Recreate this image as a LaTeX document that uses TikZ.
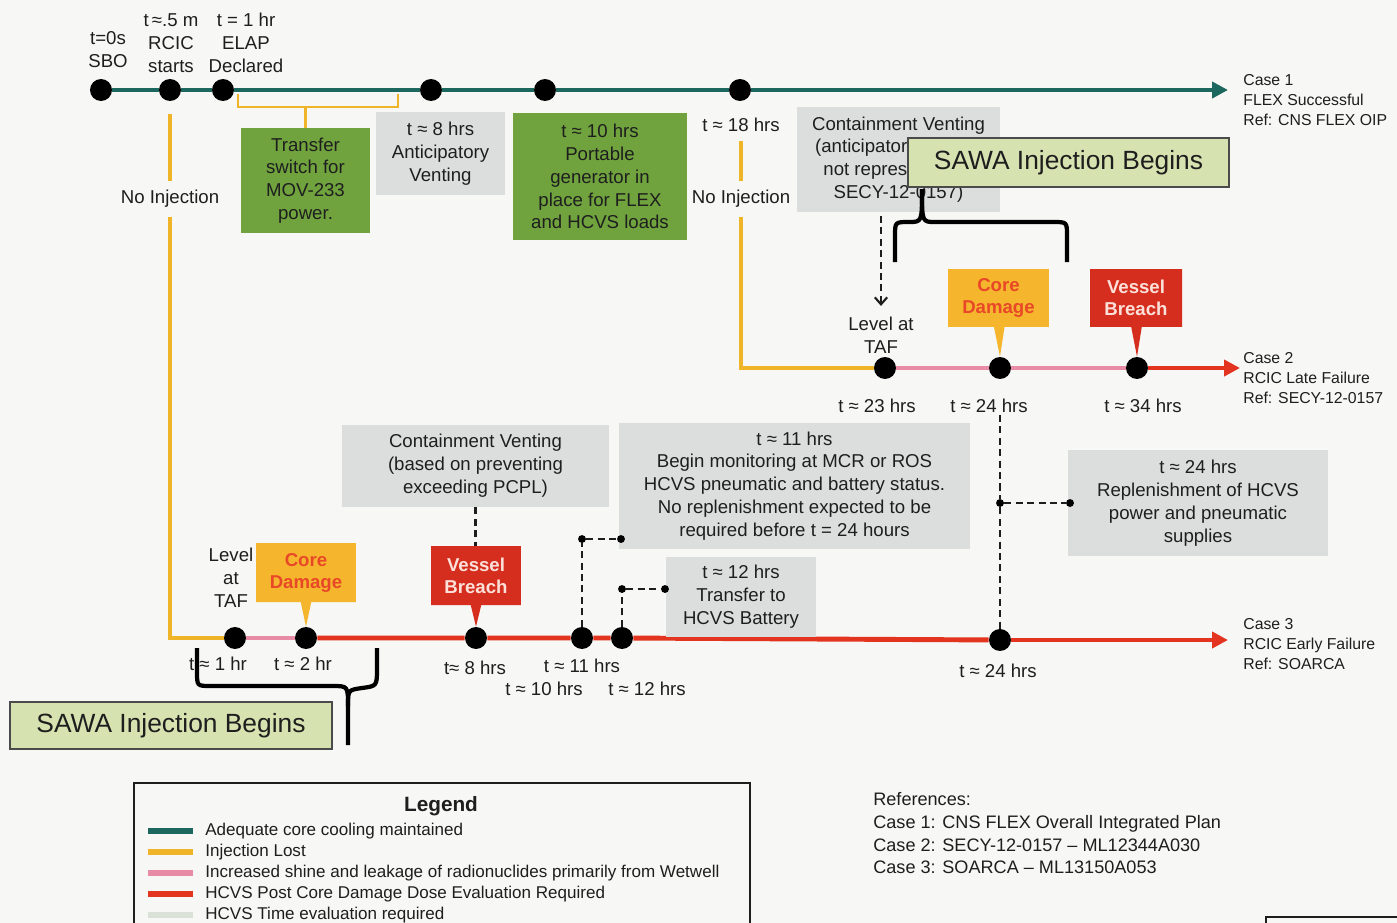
\documentclass[tikz,border=0pt]{standalone}
\usepackage{fontspec}
\setmainfont{Liberation Sans}
\usetikzlibrary{arrows.meta,positioning,calc,shapes.callouts}
\definecolor{paper}{RGB}{247,247,246}
\definecolor{ink}{RGB}{30,30,30}
\definecolor{okc}{RGB}{28,104,94}
\definecolor{lostc}{RGB}{240,180,40}
\definecolor{shinec}{RGB}{232,140,165}
\definecolor{dosec}{RGB}{226,52,30}
\definecolor{timec}{RGB}{218,225,214}
\definecolor{flexgreen}{RGB}{112,163,62}
\definecolor{notegray}{RGB}{220,222,222}
\definecolor{sawafill}{RGB}{214,227,176}
\definecolor{cdfill}{RGB}{245,182,45}
\definecolor{cdtext}{RGB}{232,72,40}
\definecolor{vbfill}{RGB}{214,46,30}
\definecolor{vbtext}{RGB}{252,225,218}
\tikzset{
  lbl/.style={align=center,font=\fontsize{10.6}{13}\selectfont,text=ink,inner sep=1pt},
  caselbl/.style={align=left,anchor=west,font=\fontsize{9}{11.3}\selectfont,text=ink,inner sep=0pt},
  greenbox/.style={lbl,fill=flexgreen,inner sep=0pt},
  graybox/.style={lbl,fill=notegray,inner sep=0pt},
  sawabox/.style={draw=ink!80,line width=0.8pt,fill=sawafill,font=\fontsize{15}{18}\selectfont,text=ink},
  callbox/.style={rectangle callout,align=center,inner sep=0pt,callout pointer width=6pt,
                  font=\bfseries\fontsize{10.6}{12.5}\selectfont},
  cdcall/.style={callbox,fill=cdfill,text=cdtext},
  vbcall/.style={callbox,fill=vbfill,text=vbtext},
  evdot/.style={circle,fill=black,inner sep=0pt,minimum size=12.5pt},
  tinydot/.style={circle,fill=black,inner sep=0pt,minimum size=4.5pt},
  arr/.style={-{Triangle[length=9pt,width=9pt]}},
  okline/.style={okc,line width=2.8pt,arr},
  lostline/.style={lostc,line width=2.6pt},
  shineline/.style={shinec,line width=2.8pt},
  doseline/.style={dosec,line width=2.8pt},
  bracket/.style={lostc,line width=1.6pt},
  dashcon/.style={ink,line width=1.2pt,dash pattern=on 4pt off 2.5pt},
  dasharrow/.style={dashcon,-{Straight Barb[length=4pt,width=7pt]}},
  bracepath/.style={black,line width=2.4pt,line join=round},
  legtext/.style={anchor=west,font=\fontsize{9.7}{11}\selectfont,text=ink,inner sep=0pt},
}
\begin{document}
\begin{tikzpicture}[x=0.02cm,y=-0.02cm]
  \useasboundingbox (0,0) rectangle (1397,923);
  \fill[paper] (0,0) rectangle (1397,923);

  % case 1 -- FLEX successful
  \node[evdot] (d0) at (101,90) {};
  \node[evdot] (d1) at (170,90) {};
  \node[evdot] (d2) at (223,90) {};
  \node[evdot] (d3) at (431,90) {};
  \node[evdot] (d4) at (545,90) {};
  \node[evdot] (d5) at (740,90) {};
  \coordinate (c1end) at (1228,90);
  \draw[okline] (d0) -- (d1) -- (d2) -- (d3) -- (d4) -- (d5) -- (c1end);
  \node[lbl] (sbo) at (108,50) {t=0s\\SBO};
  \node[lbl] (rcic) at (171,43) {t\,≈.5 m\\RCIC\\starts};
  \node[lbl] (elap) at (246,43) {t = 1 hr\\ELAP\\Declared};
  \node[caselbl] (case1) at (1243,100) {Case 1\\FLEX Successful\\Ref: CNS FLEX OIP};

  % boxes under case 1
  \node[greenbox,minimum width=2.58cm,minimum height=2.1cm] (xfer) at (305.5,180.5)
    {Transfer\\switch for\\MOV-233\\power.};
  \coordinate (brmid) at (305.5,107);
  \draw[bracket] (238,94) |- (398,107) -- (398,94);
  \draw[bracket] (xfer.north) -- (brmid);
  \node[graybox,minimum width=2.58cm,minimum height=1.66cm] (antv) at (440.5,153.5)
    {t ≈ 8 hrs\\Anticipatory\\Venting};
  \node[greenbox,minimum width=3.48cm,minimum height=2.54cm] (pgen) at (600,176.5)
    {t ≈ 10 hrs\\Portable\\generator in\\place for FLEX\\and HCVS loads};
  \node[lbl] (t18) at (741,125) {t ≈ 18 hrs};
  \node[lbl,inner sep=5pt] (ni1) at (170,199) {No Injection};
  \node[lbl,inner sep=5pt] (ni2) at (741,199) {No Injection};
  \node[graybox,minimum width=4.06cm,minimum height=2.1cm] (vent1) at (898.5,159.5)
    {Containment Venting\\(anticipatory venting\\not represented in\\SECY-12-0157)};
  \node[sawabox,minimum width=6.42cm,minimum height=0.98cm] (sawa1) at (1068.5,162.5)
    {SAWA Injection Begins};
  \draw[bracepath] (895,262) -- (895,236) .. controls (895,222) .. (909,222)
    .. controls (922,222) .. (922,189);
  \draw[bracepath] (922,189) .. controls (922,222) .. (935,222) -- (1053,222)
    .. controls (1067,222) .. (1067,236) -- (1067,262);

  % case 2 -- RCIC late failure
  \node[evdot] (f1) at (885,368) {};
  \node[evdot] (f2) at (1000,368) {};
  \node[evdot] (f3) at (1137,368) {};
  \coordinate (c2end) at (1240,368);
  \draw[lostline,shorten <=4pt] (t18) -- (ni2);
  \draw[lostline] (ni2) |- (f1);
  \draw[shineline] (f1) -- (f2) -- (f3);
  \draw[doseline,arr] (f3) -- (c2end);
  \node[lbl] (lt2) at (881,335) {Level at\\TAF};
  \draw[dasharrow,shorten <=2pt,shorten >=5pt] (vent1.south -| lt2.north) -- (lt2.north);
  \node[cdcall,minimum width=2.02cm,minimum height=1.16cm,callout absolute pointer={(f2.north)}]
    (cd2) at (998.5,298) {Core\\Damage};
  \node[vbcall,minimum width=1.84cm,minimum height=1.16cm,callout absolute pointer={(f3.north)}]
    (vb2) at (1136,298) {Vessel\\Breach};
  \node[lbl] (t23) at (877,406) {t ≈ 23 hrs};
  \node[lbl] (t24a) at (989,406) {t ≈ 24 hrs};
  \node[lbl] (t34) at (1143,406) {t ≈ 34 hrs};
  \node[caselbl] (case2) at (1243,378) {Case 2\\RCIC Late Failure\\Ref: SECY-12-0157};

  % case 3 -- RCIC early failure
  \node[evdot] (e1) at (235,638) {};
  \node[evdot] (e2) at (306,638) {};
  \node[evdot] (e3) at (476,638) {};
  \node[evdot] (e4) at (582,638) {};
  \node[evdot] (e5) at (622,638) {};
  \node[evdot] (e6) at (1000,640) {};
  \coordinate (c3end) at (1228,640);
  \draw[lostline,shorten <=7pt] (d1) -- (ni1);
  \draw[lostline] (ni1) |- (e1);
  \draw[shineline] (e1) -- (e2);
  \draw[doseline] (e2) -- (e3) -- (e4) -- (e5) -- (e6);
  \draw[doseline,arr] (e6) -- (c3end);
  \node[lbl] (lt3) at (231,578) {Level\\at\\TAF};
  \node[cdcall,minimum width=2.0cm,minimum height=1.18cm,callout absolute pointer={(e2.north)}]
    (cd3) at (306,572.5) {Core\\Damage};
  \node[vbcall,minimum width=1.8cm,minimum height=1.18cm,callout absolute pointer={(e3.north)}]
    (vb3) at (476,575.5) {Vessel\\Breach};
  \node[graybox,minimum width=5.34cm,minimum height=1.64cm] (vent2) at (475.5,466)
    {Containment Venting\\(based on preventing\\exceeding PCPL)};
  \draw[dashcon] (vent2.south) -- (vent2.south |- vb3.north);
  \node[graybox,minimum width=7.02cm,minimum height=2.52cm] (mon) at (794.5,486)
    {t ≈ 11 hrs\\Begin monitoring  at MCR or ROS\\HCVS pneumatic and battery  status.\\No replenishment expected to be\\required before t = 24 hours};
  \node[graybox,minimum width=3.0cm,minimum height=1.6cm] (batt) at (741,597)
    {t ≈ 12 hrs\\Transfer to\\HCVS Battery};
  \node[graybox,minimum width=5.2cm,minimum height=2.12cm] (repl) at (1198,503)
    {t ≈ 24 hrs\\Replenishment of HCVS\\power and pneumatic\\supplies};
  \node[tinydot] (s1) at (582,539) {};
  \node[tinydot] (s2) at (621,539) {};
  \draw[dashcon] (e4) -- (s1) -- (s2);
  \node[tinydot] (s3) at (622,589) {};
  \node[tinydot] (s4) at (665,589) {};
  \draw[dashcon] (e5) -- (s3) -- (s4);
  \node[tinydot] (s5) at (1000,503) {};
  \node[tinydot] (s6) at (1070,503) {};
  \draw[dashcon] (t24a.south -| s5) -- (s5) -- (e6);
  \draw[dashcon] (s5) -- (s6);
  \node[lbl] (t1) at (218,664) {t ≈ 1 hr};
  \node[lbl] (t2) at (303,664) {t ≈ 2 hr};
  \node[lbl] (t8) at (475,668) {t≈ 8 hrs};
  \node[lbl] (t11) at (582,666) {t ≈ 11 hrs};
  \node[lbl] (t10) at (544,689) {t ≈ 10 hrs};
  \node[lbl] (t12) at (647,689) {t ≈ 12 hrs};
  \node[lbl] (t24b) at (998,671) {t ≈ 24 hrs};
  \node[caselbl] (case3) at (1243,644) {Case 3\\RCIC Early Failure\\Ref: SOARCA};
  \node[sawabox,minimum width=6.44cm,minimum height=0.94cm] (sawa2) at (171,725.5)
    {SAWA Injection Begins};
  \draw[bracepath] (197,648) -- (197,672) .. controls (197,686) .. (211,686) -- (332,686)
    .. controls (348,686) .. (348,706) -- (348,745);
  \draw[bracepath] (377,648) -- (377,668) .. controls (377,686) .. (362,688)
    .. controls (348,690) .. (348,706);

  % legend
  \draw[ink,line width=1.2pt] (134,930) |- (750,783) -- (750,930);
  \node[font=\bfseries\fontsize{11.8}{14}\selectfont,text=ink] (legtitle) at (441,806) {Legend};
  \foreach \c/\t [count=\i] in {okc/Adequate core cooling maintained,
      lostc/Injection Lost,
      shinec/Increased shine and leakage of radionuclides primarily from Wetwell,
      dosec/HCVS Post Core Damage Dose Evaluation Required,
      timec/HCVS Time evaluation required} {
    \draw[\c,line width=3pt] (148,{810+21*\i}) -- (193,{810+21*\i});
    \node[legtext] (leg\i) at (205,{810+21*\i}) {\t};
  }

  % references
  \node[anchor=north west,align=left,inner sep=0pt,font=\fontsize{10.3}{13}\selectfont,text=ink]
    (refs) at (873,792) {References:\\Case 1:  CNS FLEX Overall Integrated Plan\\Case 2:  SECY-12-0157  -- ML12344A030\\Case 3:  SOARCA -- ML13150A053};
  \draw[ink,line width=1pt] (1266,930) |- (1400,917);
\end{tikzpicture}
\end{document}
